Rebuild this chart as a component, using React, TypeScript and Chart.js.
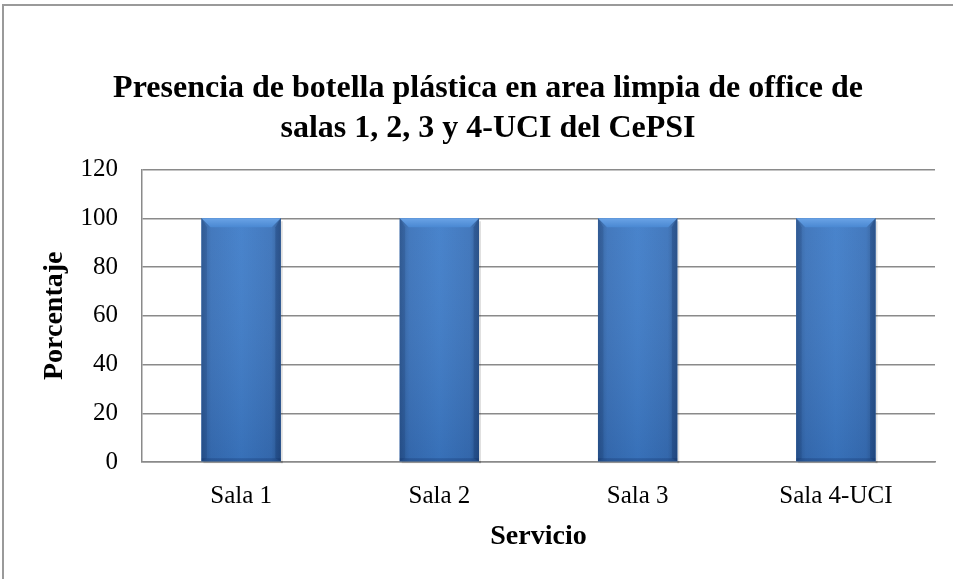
import React, { useEffect, useRef } from "react";
import { Chart, registerables } from "chart.js";

Chart.register(...registerables);

const categories = ["Sala 1", "Sala 2", "Sala 3", "Sala 4-UCI"];
const values = [100, 100, 100, 100];
const titleLines = [
  "Presencia de botella plástica en area limpia de office de",
  "salas 1, 2, 3 y 4-UCI del CePSI",
];
const yTitle = "Porcentaje";
const xTitle = "Servicio";
const yMin = 0;
const yMax = 120;
const yStep = 20;

const FONT = '"Liberation Serif", "Times New Roman", serif';

const bevelPlugin = {
  id: "bevelBars",
  afterDatasetsDraw(chart: any) {
    const ctx = chart.ctx;
    chart.data.datasets.forEach((ds: any, di: number) => {
      const meta = chart.getDatasetMeta(di);
      meta.data.forEach((el: any) => {
        const { x, y, base, width } = el.getProps(["x", "y", "base", "width"], true);
        const l = x - width / 2;
        const r = x + width / 2;
        const t = Math.min(y, base);
        const b = Math.max(y, base);
        ctx.save();
        ctx.fillStyle = "rgba(0,0,0,0.12)";
        ctx.fillRect(r, t + 3, 2, b - t - 1);
        ctx.fillRect(l + 2, b, width, 2);
        const g = ctx.createLinearGradient(l, 0, r, 0);
        g.addColorStop(0, "#2d5c99");
        g.addColorStop(0.12, "#3a72ba");
        g.addColorStop(0.5, "#3f7dc9");
        g.addColorStop(0.88, "#3a72ba");
        g.addColorStop(1, "#2b5893");
        ctx.fillStyle = g;
        ctx.fillRect(l, t, width, b - t);
        const gv = ctx.createLinearGradient(0, t, 0, b);
        gv.addColorStop(0, "rgba(255,255,255,0.05)");
        gv.addColorStop(1, "rgba(0,20,60,0.12)");
        ctx.fillStyle = gv;
        ctx.fillRect(l, t, width, b - t);
        const bev = 9;
        ctx.beginPath();
        ctx.moveTo(l, t);
        ctx.lineTo(r, t);
        ctx.lineTo(r - bev, t + bev);
        ctx.lineTo(l + bev, t + bev);
        ctx.closePath();
        const gt = ctx.createLinearGradient(0, t, 0, t + bev);
        gt.addColorStop(0, "#6aa3e6");
        gt.addColorStop(1, "#4a88d2");
        ctx.fillStyle = gt;
        ctx.fill();
        ctx.beginPath();
        ctx.moveTo(l, t);
        ctx.lineTo(l + bev * 0.6, t + bev);
        ctx.lineTo(l + bev * 0.6, b - 3);
        ctx.lineTo(l, b);
        ctx.closePath();
        ctx.fillStyle = "rgba(20,50,100,0.18)";
        ctx.fill();
        ctx.beginPath();
        ctx.moveTo(r, t);
        ctx.lineTo(r - bev * 0.6, t + bev);
        ctx.lineTo(r - bev * 0.6, b - 3);
        ctx.lineTo(r, b);
        ctx.closePath();
        ctx.fillStyle = "rgba(10,40,90,0.25)";
        ctx.fill();
        ctx.fillStyle = "rgba(10,40,90,0.25)";
        ctx.fillRect(l, b - 3, width, 3);
        ctx.restore();
      });
    });
  },
};

export default function App() {
  const ref = useRef<HTMLCanvasElement | null>(null);
  useEffect(() => {
    document.body.style.margin = "0";
    const canvas = ref.current!;
    const chart = new Chart(canvas, {
      type: "bar",
      data: {
        labels: categories,
        datasets: [
          {
            data: values,
            backgroundColor: "#3a75bf",
            borderWidth: 0,
            barPercentage: 0.4,
            categoryPercentage: 1.0,
          },
        ],
      },
      options: {
        animation: false,
        responsive: false,
        maintainAspectRatio: false,
        layout: { padding: { left: 41, right: 18, top: 0, bottom: 28 } },
        plugins: {
          legend: { display: false },
          tooltip: { enabled: false },
          title: {
            display: true,
            text: titleLines,
            color: "#000",
            font: { family: FONT, size: 32, weight: "bold", lineHeight: 1.25 },
            padding: { top: 69, bottom: 20.5 },
          },
        },
        scales: {
          x: {
            grid: { display: false, drawTicks: false },
            border: { display: true, color: "#8a8a8a", width: 1.5 },
            ticks: {
              color: "#000",
              font: { family: FONT, size: 25 },
              padding: 19,
            },
            title: {
              display: true,
              text: xTitle,
              color: "#000",
              font: { family: FONT, size: 28, weight: "bold", lineHeight: 1 },
              padding: { top: -7, bottom: 0 },
            },
          },
          y: {
            min: yMin,
            max: yMax,
            ticks: {
              stepSize: yStep,
              color: "#000",
              font: { family: FONT, size: 25 },
              padding: 24,
            },
            grid: { color: "#8a8a8a", lineWidth: 1.5, drawTicks: false },
            border: { display: true, color: "#8a8a8a", width: 1.5 },
            title: {
              display: true,
              text: yTitle,
              color: "#000",
              font: { family: FONT, size: 28, weight: "bold", lineHeight: 1 },
              padding: 0,
            },
            afterFit(scale: any) {
              scale.width = 101;
            },
          },
        },
      },
      plugins: [bevelPlugin],
    });
    return () => chart.destroy();
  }, []);
  return (
    <div style={{ position: "relative", width: 953, height: 579, background: "#fff", overflow: "hidden" }}>
      <canvas ref={ref} width={953} height={579} style={{ position: "absolute", left: 0, top: 0 }} />
      <div
        style={{
          position: "absolute",
          left: 2,
          top: 4,
          width: 1000,
          height: 1000,
          borderLeft: "2px solid #9a9a9a",
          borderTop: "2px solid #9a9a9a",
          pointerEvents: "none",
        }}
      />
    </div>
  );
}
